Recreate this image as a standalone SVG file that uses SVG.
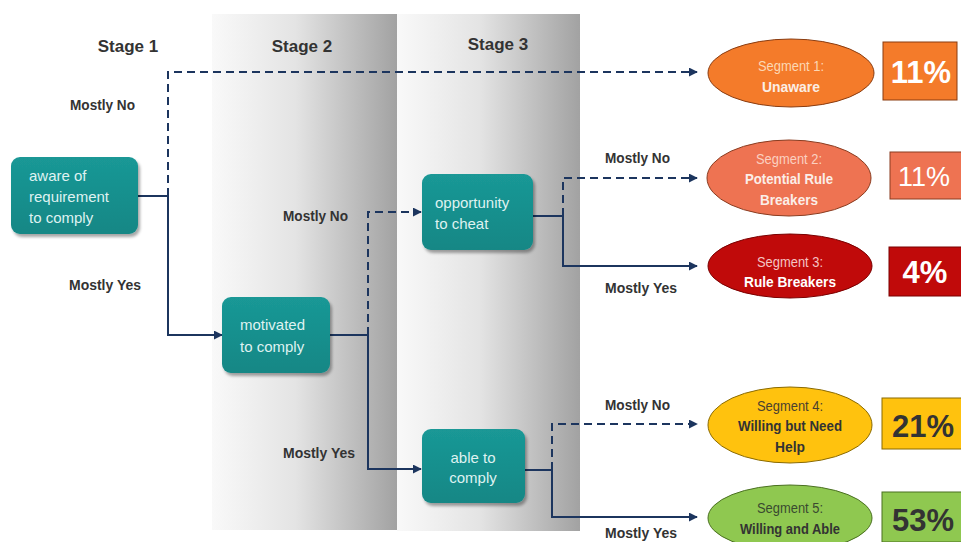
<svg xmlns="http://www.w3.org/2000/svg" width="961" height="542" viewBox="0 0 961 542">
<defs>
  <linearGradient id="band" x1="0" y1="0" x2="1" y2="0">
    <stop offset="0" stop-color="#f9f9f9"/>
    <stop offset="0.45" stop-color="#e4e4e4"/>
    <stop offset="1" stop-color="#a2a2a2"/>
  </linearGradient>
  <linearGradient id="teal" x1="0" y1="0" x2="0" y2="1">
    <stop offset="0" stop-color="#1a9896"/>
    <stop offset="1" stop-color="#138785"/>
  </linearGradient>
  <marker id="arr" viewBox="0 0 10 10" refX="9" refY="5" markerWidth="9" markerHeight="9" markerUnits="userSpaceOnUse" orient="auto">
    <path d="M0,0 L10,5 L0,10 z" fill="#1c355e"/>
  </marker>
  <filter id="sh" x="-10%" y="-10%" width="130%" height="130%">
    <feDropShadow dx="2" dy="3" stdDeviation="1.5" flood-color="#000" flood-opacity="0.35"/>
  </filter>
</defs>
<style>
  .stage{font-family:"Liberation Sans",Arial,sans-serif;font-weight:bold;font-size:17px;fill:#333;}
  .lbl{font-family:"Liberation Sans",Arial,sans-serif;font-weight:bold;font-size:15px;fill:#333;}
  .box{fill:url(#teal);filter:url(#sh);}
  .nt{font-family:"Liberation Sans",Arial,sans-serif;font-size:15px;fill:#dff2f1;}
  .ln{fill:none;stroke:#1c355e;stroke-width:2;}
  .dash{stroke-dasharray:8 5;}
  .seg{font-family:"Liberation Sans",Arial,sans-serif;font-size:15px;text-anchor:middle;}
  .segb{font-weight:bold;}
  .pct{font-family:"Liberation Sans",Arial,sans-serif;font-weight:bold;font-size:31px;text-anchor:middle;}
</style>
<rect width="961" height="542" fill="#ffffff"/>

<g id="bands">
  <rect x="212" y="14" width="185" height="516" fill="url(#band)"/>
  <rect x="397" y="14" width="183" height="517" fill="url(#band)"/>
</g>

<g id="stage-labels">
  <text class="stage" x="128" y="52" text-anchor="middle">Stage 1</text>
  <text class="stage" x="302" y="52" text-anchor="middle">Stage 2</text>
  <text class="stage" x="498" y="50" text-anchor="middle">Stage 3</text>
</g>

<g id="connectors">
  <path class="ln dash" d="M168,196 V72 H697" marker-end="url(#arr)"/>
  <path class="ln" d="M138,196 H168 V335 H222" marker-end="url(#arr)"/>
  <path class="ln" d="M330,335 H368"/>
  <path class="ln dash" d="M368,335 V212 H421" marker-end="url(#arr)"/>
  <path class="ln" d="M368,335 V469 H421" marker-end="url(#arr)"/>
  <path class="ln" d="M533,216 H563"/>
  <path class="ln dash" d="M563,216 V178 H697" marker-end="url(#arr)"/>
  <path class="ln" d="M563,216 V266 H697" marker-end="url(#arr)"/>
  <path class="ln" d="M525,470 H552"/>
  <path class="ln dash" d="M552,470 V424 H697" marker-end="url(#arr)"/>
  <path class="ln" d="M552,470 V517 H697" marker-end="url(#arr)"/>
</g>

<g id="edge-labels">
  <text class="lbl" x="70" y="110" textLength="65" lengthAdjust="spacingAndGlyphs">Mostly No</text>
  <text class="lbl" x="69" y="290" textLength="72" lengthAdjust="spacingAndGlyphs">Mostly Yes</text>
  <text class="lbl" x="283" y="221" textLength="65" lengthAdjust="spacingAndGlyphs">Mostly No</text>
  <text class="lbl" x="283" y="458" textLength="72" lengthAdjust="spacingAndGlyphs">Mostly Yes</text>
  <text class="lbl" x="605" y="163" textLength="65" lengthAdjust="spacingAndGlyphs">Mostly No</text>
  <text class="lbl" x="605" y="293" textLength="72" lengthAdjust="spacingAndGlyphs">Mostly Yes</text>
  <text class="lbl" x="605" y="410" textLength="65" lengthAdjust="spacingAndGlyphs">Mostly No</text>
  <text class="lbl" x="605" y="538" textLength="72" lengthAdjust="spacingAndGlyphs">Mostly Yes</text>
</g>

<g id="node-aware">
  <rect class="box" x="11" y="157" width="127" height="77" rx="9"/>
  <text class="nt" x="29" y="181">aware of</text>
  <text class="nt" x="29" y="202">requirement</text>
  <text class="nt" x="29" y="223">to comply</text>
</g>

<g id="node-motivated">
  <rect class="box" x="222" y="297" width="108" height="76" rx="9"/>
  <text class="nt" x="240" y="330">motivated</text>
  <text class="nt" x="240" y="352">to comply</text>
</g>

<g id="node-opportunity">
  <rect class="box" x="422" y="174" width="111" height="76" rx="9"/>
  <text class="nt" x="435" y="208">opportunity</text>
  <text class="nt" x="435" y="229">to cheat</text>
</g>

<g id="node-able">
  <rect class="box" x="422" y="429" width="103" height="74" rx="9"/>
  <text class="nt" x="473" y="463" text-anchor="middle">able to</text>
  <text class="nt" x="473" y="483" text-anchor="middle">comply</text>
</g>

<g id="seg1">
  <ellipse cx="791" cy="73" rx="83" ry="34" fill="#f47b2a" stroke="#8a3c10" stroke-width="1"/>
  <text class="seg" x="791" y="71" fill="#fcd8b4" textLength="66" lengthAdjust="spacingAndGlyphs">Segment 1:</text>
  <text class="seg segb" x="791" y="92" fill="#fbeee4" textLength="58" lengthAdjust="spacingAndGlyphs">Unaware</text>
  <rect x="883" y="42" width="74" height="58" fill="#f47b2a" stroke="#8a3c10" stroke-width="1"/>
  <text class="pct" x="921" y="83" fill="#ffffff">11%</text>
</g>

<g id="seg2">
  <ellipse cx="789" cy="178" rx="82" ry="38" fill="#ee7352" stroke="#8a3c20" stroke-width="1"/>
  <text class="seg" x="789" y="164" fill="#fbd0c0" textLength="66" lengthAdjust="spacingAndGlyphs">Segment 2:</text>
  <text class="seg segb" x="789" y="184" fill="#fbeee8" textLength="88" lengthAdjust="spacingAndGlyphs">Potential Rule</text>
  <text class="seg segb" x="789" y="205" fill="#fbeee8" textLength="58" lengthAdjust="spacingAndGlyphs">Breakers</text>
  <rect x="890" y="152" width="74" height="47" fill="#ee7352" stroke="#8a3c20" stroke-width="1"/>
  <text class="pct" x="924" y="186" fill="#ffffff" style="font-weight:normal;font-size:27px;">11%</text>
</g>

<g id="seg3">
  <ellipse cx="790" cy="266" rx="82" ry="32" fill="#c00a0a" stroke="#7a0000" stroke-width="1"/>
  <text class="seg" x="790" y="267" fill="#f4c4c4" textLength="66" lengthAdjust="spacingAndGlyphs">Segment 3:</text>
  <text class="seg segb" x="790" y="287" fill="#ffffff" textLength="92" lengthAdjust="spacingAndGlyphs">Rule Breakers</text>
  <rect x="889" y="247" width="74" height="49" fill="#c00a0a" stroke="#7a0000" stroke-width="1"/>
  <text class="pct" x="925" y="283" fill="#ffffff">4%</text>
</g>

<g id="seg4">
  <ellipse cx="790" cy="425" rx="82" ry="38" fill="#ffc20e" stroke="#8a6a00" stroke-width="1"/>
  <text class="seg" x="790" y="411" fill="#4a4030" textLength="66" lengthAdjust="spacingAndGlyphs">Segment 4:</text>
  <text class="seg segb" x="790" y="431" fill="#333" textLength="104" lengthAdjust="spacingAndGlyphs">Willing but Need</text>
  <text class="seg segb" x="790" y="452" fill="#333" textLength="30" lengthAdjust="spacingAndGlyphs">Help</text>
  <rect x="882" y="398" width="82" height="51" fill="#ffc20e" stroke="#8a6a00" stroke-width="1"/>
  <text class="pct" x="923" y="437" fill="#333">21%</text>
</g>

<g id="seg5">
  <ellipse cx="790" cy="518" rx="82" ry="33" fill="#8fc850" stroke="#4a7020" stroke-width="1"/>
  <text class="seg" x="790" y="513" fill="#3a4a30" textLength="66" lengthAdjust="spacingAndGlyphs">Segment 5:</text>
  <text class="seg segb" x="790" y="534" fill="#333" textLength="100" lengthAdjust="spacingAndGlyphs">Willing and Able</text>
  <rect x="882" y="492" width="82" height="50" fill="#8fc850" stroke="#4a7020" stroke-width="1"/>
  <text class="pct" x="923" y="531" fill="#333">53%</text>
</g>
</svg>
